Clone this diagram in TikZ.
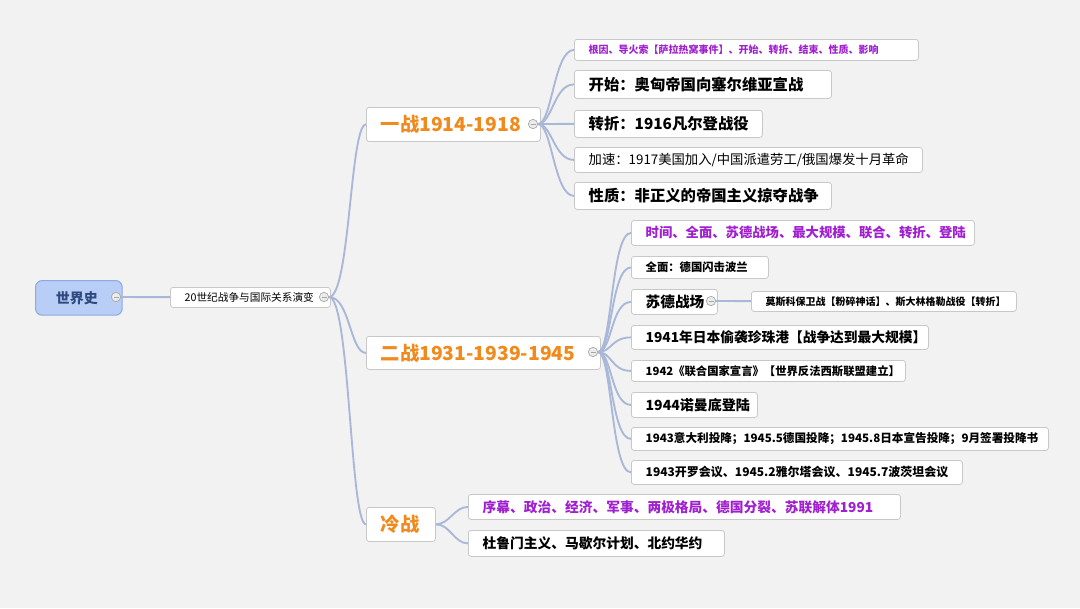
\documentclass[tikz,border=0pt]{standalone}
\usepackage{fontspec}
\setmainfont{Noto Sans CJK SC}
\usetikzlibrary{calc}
\definecolor{bg}{HTML}{F2F2F2}
\definecolor{ln}{HTML}{A9B8D9}
\definecolor{bd}{HTML}{C8C8C8}
\definecolor{org}{HTML}{F08A1C}
\definecolor{pur}{HTML}{A020D0}
\definecolor{rootf}{HTML}{B9CEF6}
\definecolor{rootd}{HTML}{8EA9E0}
\definecolor{roott}{HTML}{2F4A80}
\begin{document}
\begin{tikzpicture}[x=0.75pt,y=-0.75pt,
 box/.style={draw=bd,fill=white,rounded corners=2pt,line width=0.6pt,inner sep=0pt,anchor=north west},
 coll/.style={circle,draw=gray!70,fill=gray!15,line width=0.5pt,minimum size=7pt,inner sep=0pt},
 conn/.style={draw=ln,line width=1.4pt}]
\fill[bg] (0,0) rectangle (1080,608);
\useasboundingbox (0,0) rectangle (1080,608);
\newcommand\bx[7]{% name x1 y1 x2 y2 textstyle text
 \node[box,minimum width={(#4-#2)*0.75pt},minimum height={(#5-#3)*0.75pt}] (#1) at (#2,#3) {};
 \node[anchor=west,#6] at ($(#1.west)+(10,0)$) {#7};}
% root
\node[draw=rootd,fill=rootf,rounded corners=5pt,line width=0.8pt,minimum width=65pt,minimum height=26pt,anchor=north west,inner sep=0pt] (root) at (35,280) {};
\node[text=roott,font=\bfseries\fontsize{10.5}{12}\selectfont] at ($(root.center)+(-2,0)$) {世界史};
\node[coll] (rc) at (116,297) {}; \draw[gray!70] (113.5,297)--(118.5,297);
\bx{mid}{170}{287}{330}{307}{font=\fontsize{8}{10}\selectfont}{20世纪战争与国际关系演变}
\node[coll] (mc) at (324,297) {}; \draw[gray!70] (321.5,297)--(326.5,297);
\draw[conn] (rc) -- (mid);
% level 2
\bx{w1}{366}{107}{540}{141}{font=\bfseries\fontsize{14.5}{17}\selectfont,text=org}{一战1914-1918}
\bx{w2}{366}{336}{600}{369}{font=\bfseries\fontsize{14.5}{17}\selectfont,text=org}{二战1931-1939-1945}
\bx{w3}{366}{507}{435}{541}{font=\bfseries\fontsize{14.5}{17}\selectfont,text=org}{冷战}
\node[coll] (c1) at (533,124) {}; \draw[gray!70] (530.5,124)--(535.5,124);
\node[coll] (c2) at (593,352) {}; \draw[gray!70] (590.5,352)--(595.5,352);
\foreach \t in {w1,w2,w3}{\draw[conn] (mc.east) .. controls (350,297) and ($(\t.west)+(-16,0)$) .. (\t.west);}
% 一战 leaves
\bx{a1}{574}{39}{918}{60}{font=\bfseries\fontsize{7.5}{9}\selectfont,text=pur}{根因、导火索【萨拉热窝事件】、开始、转折、结束、性质、影响}
\bx{a2}{574}{70}{831}{98}{font=\bfseries\fontsize{11.5}{14}\selectfont}{开始：奥匈帝国向塞尔维亚宣战}
\bx{a3}{574}{110}{762}{137}{font=\bfseries\fontsize{11.5}{14}\selectfont}{转折：1916凡尔登战役}
\bx{a4}{574}{147}{922}{172}{font=\fontsize{10}{12}\selectfont}{加速：1917美国加入/中国派遣劳工/俄国爆发十月革命}
\bx{a5}{574}{182}{831}{209}{font=\bfseries\fontsize{11.5}{14}\selectfont}{性质：非正义的帝国主义掠夺战争}
\foreach \t in {a1,a2,a3,a4,a5}{\draw[conn] (c1.east) .. controls (552,124) and ($(\t.west)+(-20,0)$) .. (\t.west);}
% 二战 leaves
\bx{b1}{631}{220}{974}{245}{font=\bfseries\fontsize{10}{12}\selectfont,text=pur}{时间、全面、苏德战场、最大规模、联合、转折、登陆}
\bx{b2}{631}{256}{768}{278}{font=\bfseries\fontsize{8.5}{10}\selectfont}{全面：德国闪击波兰}
\bx{b3}{631}{289}{717}{314}{font=\bfseries\fontsize{11}{13}\selectfont}{苏德战场}
\bx{b4}{631}{325}{928}{349}{font=\bfseries\fontsize{10.3}{12}\selectfont}{1941年日本偷袭珍珠港【战争达到最大规模】}
\bx{b5}{631}{360}{905}{381}{font=\bfseries\fontsize{8.5}{10}\selectfont}{1942《联合国家宣言》【世界反法西斯联盟建立】}
\bx{b6}{631}{392}{757}{417}{font=\bfseries\fontsize{10.5}{12}\selectfont}{1944诺曼底登陆}
\bx{b7}{631}{427}{1048}{450}{font=\bfseries\fontsize{8.7}{10}\selectfont}{1943意大利投降；1945.5德国投降；1945.8日本宣告投降；9月签署投降书}
\bx{b8}{631}{460}{962}{484}{font=\bfseries\fontsize{9}{11}\selectfont}{1943开罗会议、1945.2雅尔塔会议、1945.7波茨坦会议}
\foreach \t in {b1,b2,b3,b4,b5,b6,b7,b8}{\draw[conn] (c2.east) .. controls (612,352) and ($(\t.west)+(-20,0)$) .. (\t.west);}
\node[coll] (c3) at (711,301) {}; \draw[gray!70] (708.5,301)--(713.5,301);
\bx{b31}{751}{291}{1016}{311}{font=\bfseries\fontsize{7.5}{9}\selectfont}{莫斯科保卫战【粉碎神话】、斯大林格勒战役【转折】}
\draw[conn] (c3) -- (b31);
% 冷战 leaves
\bx{d1}{468}{494}{900}{519}{font=\bfseries\fontsize{10.3}{12}\selectfont,text=pur}{序幕、政治、经济、军事、两极格局、德国分裂、苏联解体1991}
\bx{d2}{468}{530}{724}{556}{font=\bfseries\fontsize{10.3}{12}\selectfont}{杜鲁门主义、马歇尔计划、北约华约}
\foreach \t in {d1,d2}{\draw[conn] (w3.east) .. controls (450,524) and ($(\t.west)+(-14,0)$) .. (\t.west);}
\end{tikzpicture}
\end{document}
